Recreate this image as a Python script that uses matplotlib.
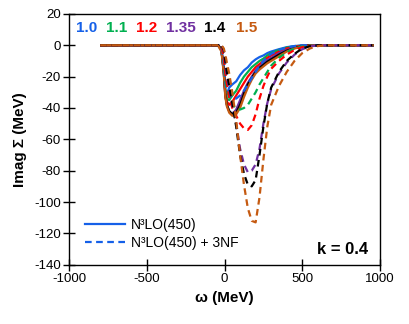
import numpy as np
import matplotlib
matplotlib.use("Agg")
import matplotlib.pyplot as plt

plt.rcParams['font.family'] = ['Liberation Sans', 'DejaVu Sans']
plt.rcParams['axes.unicode_minus'] = False

# omega grid (MeV) shared by all curves
w = [-800, -60, -40, -20, -5, 5, 15, 30, 50, 75, 100, 125, 150, 175, 200,
     225, 250, 275, 300, 350, 400, 450, 500, 550, 600, 650, 700, 960]

cutoffs = ["1.0", "1.1", "1.2", "1.35", "1.4", "1.5"]
colors = ["#1560e8", "#00b050", "#ff0000", "#7030a0", "#000000", "#c55a11"]

# N3LO(450) solid curves
blue_s = [0, 0, 0, -3, -15, -30, -31, -27, -25, -23, -19, -16, -14, -11, -9,
          -7.5, -6.5, -5, -4, -2.5, -1.2, -0.5, 0, 0, 0, 0, 0, 0]
green_s = [0, 0, 0, -3, -15, -28, -34, -35, -32, -29, -24, -20, -17, -14, -12,
           -10, -8.5, -6.5, -5, -3, -1.5, -0.7, -0.2, 0, 0, 0, 0, 0]
red_s = [0, 0, 0, -3, -16, -30, -36, -38, -36, -32, -28, -24, -20, -17, -14,
         -12, -10, -8, -6.5, -4, -2, -1, -0.3, 0, 0, 0, 0, 0]
purple_s = [0, 0, 0, -3, -17, -32, -38, -42, -44, -41, -35, -29, -24, -20, -16,
            -13.5, -11.5, -9.5, -8, -5, -3, -1.5, -0.5, -0.1, 0, 0, 0, 0]
black_s = [0, 0, 0, -3, -17, -32, -38, -42, -44, -43, -38, -31, -25, -21, -17,
           -14.5, -12.5, -10.5, -9, -6, -3.5, -1.8, -0.7, -0.2, 0, 0, 0, 0]
orange_s = [0, 0, -0.5, -4, -18, -33, -39, -43, -45, -44, -40, -33, -27, -22, -18,
            -15.5, -13.5, -11.5, -10, -7, -4, -2, -1, -0.3, 0, 0, 0, 0]

# N3LO(450) + 3NF dashed curves
blue_d = [0, 0, 0, -2, -12, -24, -29, -32, -34, -34, -32, -29, -25, -21, -17,
          -13, -10, -7.5, -5.5, -3, -1.5, -0.5, 0, 0, 0, 0, 0, 0]
green_d = [0, 0, 0, -1, -10, -22, -28, -34, -38, -40, -41, -40, -38, -34, -30,
           -25, -21, -17, -13, -8, -4.5, -2, -0.8, -0.2, 0, 0, 0, 0]
red_d = [0, 0, 0, -1, -8, -18, -25, -33, -40, -45, -50, -53, -54, -51, -44,
         -34, -26, -20, -15, -10, -6, -3, -1.2, -0.4, 0, 0, 0, 0]
purple_d = [0, 0, 0, 0, -4, -12, -20, -28, -38, -50, -66, -76, -81, -80, -76,
            -66, -50, -37, -28, -18, -11, -6, -2.5, -0.8, 0, 0, 0, 0]
black_d = [0, 0, 0, 0, -3, -10, -17, -26, -37, -52, -70, -82, -89, -90, -86,
           -70, -52, -37, -27, -17, -10, -5.5, -2, -0.6, 0, 0, 0, 0]
orange_d = [0, 0, 0, 0, -2, -6, -11, -18, -30, -48, -70, -89, -104, -112, -113,
            -97, -73, -52, -38, -26, -17, -10, -5, -2, -0.5, 0, 0, 0]

solid = [blue_s, green_s, red_s, purple_s, black_s, orange_s]
dashed = [blue_d, green_d, red_d, purple_d, black_d, orange_d]

fig = plt.figure(figsize=(4.09, 3.24), dpi=100)
ax = fig.add_axes([0.169, 0.183, 0.760, 0.774])

for ys, c in zip(solid, colors):
    ax.plot(w, ys, color=c, lw=1.6, solid_capstyle='butt')
for yd, c in zip(dashed, colors):
    ax.plot(w, yd, color=c, lw=1.6, linestyle=(0, (3, 2)))

# legend with blue sample lines
h1, = ax.plot([], [], color=colors[0], lw=1.6)
h2, = ax.plot([], [], color=colors[0], lw=1.6, linestyle=(0, (3, 2)))
ax.legend([h1, h2], ["N³LO(450)", "N³LO(450) + 3NF"], loc='lower left',
          frameon=False, fontsize=10, handlelength=2.9, handletextpad=0.4,
          labelspacing=0.3, borderaxespad=0.3, bbox_to_anchor=(0.02, 0.02))

# cutoff labels along the top
lab_x = [-889, -696, -500, -281, -62, 144]
for t, c, x in zip(cutoffs, colors, lab_x):
    ax.text(x, 11, t, color=c, fontsize=11, fontweight='bold',
            ha='center', va='center')

ax.text(760, -130, "k = 0.4", fontsize=12, fontweight='bold',
        ha='center', va='center')

ax.set_xlim(-1000, 1000)
ax.set_ylim(-140, 20)
ax.set_xticks(np.arange(-1000, 1001, 500))
ax.set_yticks(np.arange(-140, 21, 20))
ax.tick_params(direction='inout', length=8, width=1, labelsize=9.5, pad=2)
for s in ax.spines.values():
    s.set_linewidth(1)
ax.set_xlabel("ω (MeV)", fontsize=11, fontweight='bold', labelpad=4)
ax.set_ylabel("Imag Σ (MeV)", fontsize=11, fontweight='bold', labelpad=5)

fig.savefig("out.png", dpi=100)
